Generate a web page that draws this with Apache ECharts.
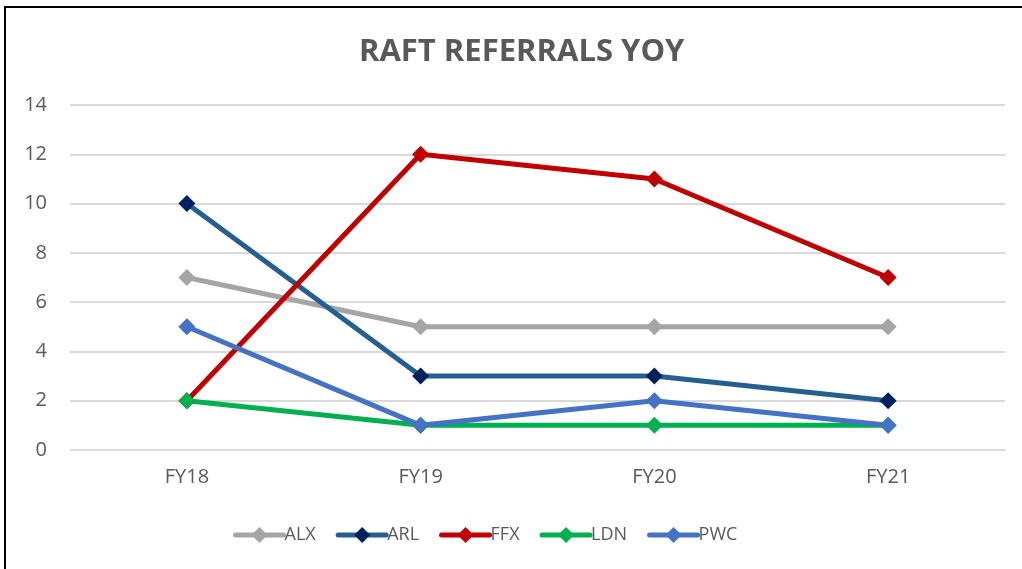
<!DOCTYPE html>
<html>
<head>
<meta charset="utf-8">
<script src="https://cdn.jsdelivr.net/npm/echarts@6/dist/echarts.min.js"></script>
<style>
html,body{margin:0;padding:0;background:#fff;}
#main{width:1022px;height:569px;}
</style>
</head>
<body>
<div id="main"></div>
<script>
// RAFT referrals year over year
var categories = ['FY18', 'FY19', 'FY20', 'FY21'];
var seriesNames = ['ALX', 'ARL', 'FFX', 'LDN', 'PWC'];
var alx = [7, 5, 5, 5];
var arl = [10, 3, 3, 2];
var ffx = [2, 12, 11, 7];
var ldn = [2, 1, 1, 1];
var pwc = [5, 1, 2, 1];
var yTicks = [0, 2, 4, 6, 8, 10, 12, 14];

var metaData = [alx, arl, ffx, ldn, pwc];
var lineColors = ['#A5A5A5', '#255E91', '#C00000', '#00B050', '#4472C4'];
var markColors = ['#A5A5A5', '#002060', '#C00000', '#00B050', '#4472C4'];

var myChart = echarts.init(document.getElementById('main'));
var serieData = [];
for (var v = 0; v < seriesNames.length; v++) {
    serieData.push({
        name: seriesNames[v],
        type: 'line',
        symbol: 'diamond',
        symbolSize: 17,
        showAllSymbol: true,
        lineStyle: {width: 5, color: lineColors[v], cap: 'round'},
        itemStyle: {color: markColors[v]},
        emphasis: {disabled: true},
        data: metaData[v]
    });
}

var font = "'Open Sans', 'Liberation Sans', sans-serif";
var option = {
    backgroundColor: '#fff',
    animation: false,
    title: {
        text: 'RAFT REFERRALS YOY',
        left: 354, top: 32,
        textStyle: {color: '#595959', fontSize: 31, fontWeight: 'bold', fontFamily: font}
    },
    legend: {
        data: seriesNames.map(function (n, i) {
            return {name: n, itemStyle: {color: markColors[i]}, lineStyle: {color: lineColors[i], width: 5}};
        }),
        bottom: 20, left: 228,
        itemWidth: 48, itemHeight: 20, itemGap: 20,
        textStyle: {color: '#595959', fontSize: 18, fontFamily: font, padding: [0, 0, 0, -4]}
    },
    graphic: [{
        type: 'rect', silent: true,
        shape: {x: 5, y: 7, width: 1040, height: 600},
        style: {fill: null, stroke: '#000', lineWidth: 2}
    }],
    grid: {left: 70, right: 17, top: 105, bottom: 119},
    xAxis: {
        type: 'category',
        data: categories,
        axisLine: {show: false},
        axisTick: {show: false},
        axisLabel: {color: '#595959', fontSize: 20, fontFamily: font, margin: 17}
    },
    yAxis: {
        type: 'value',
        min: yTicks[0], max: yTicks[yTicks.length - 1], interval: 2,
        axisLine: {show: false},
        axisTick: {show: false},
        axisLabel: {color: '#595959', fontSize: 20, fontFamily: font, margin: 23, align: 'right'},
        splitLine: {lineStyle: {color: '#D9D9D9', width: 2}}
    },
    series: serieData
};
myChart.setOption(option);
</script>
</body>
</html>
